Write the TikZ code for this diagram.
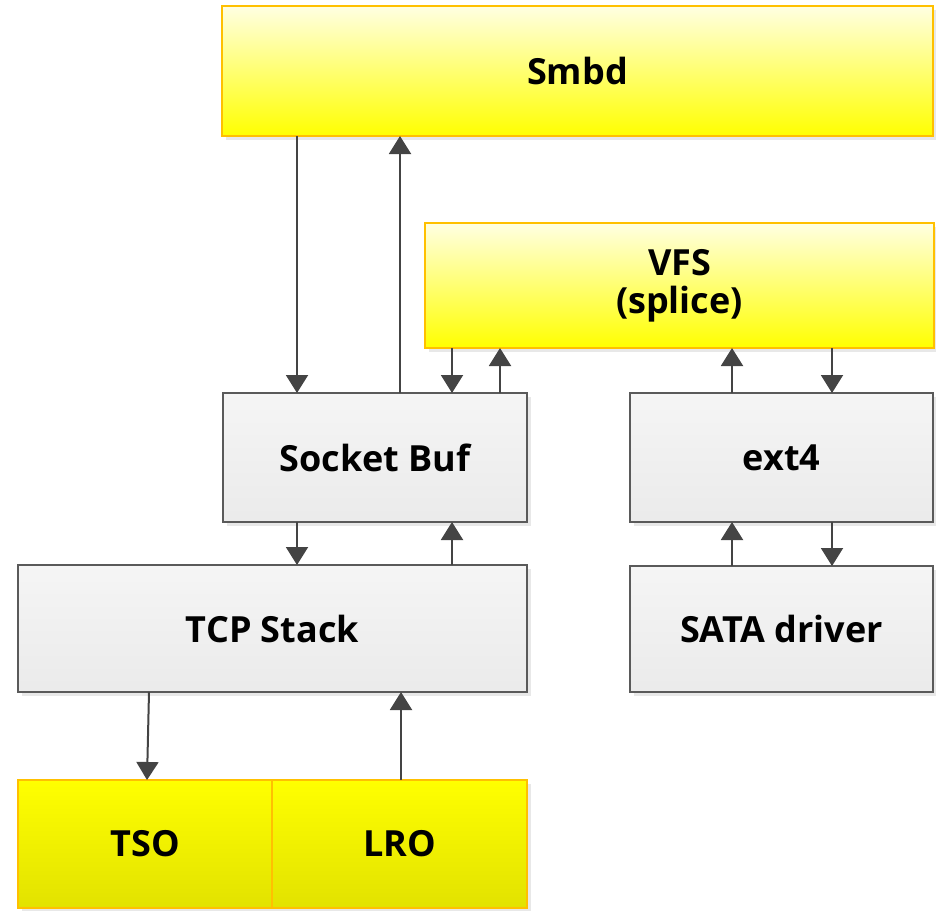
\documentclass[tikz,border=0pt]{standalone}
\usepackage{fontspec}
\setmainfont{Open Sans}
\usetikzlibrary{arrows.meta,shadows}
\definecolor{edgeGrey}{HTML}{5A5A5A}
\definecolor{arrowGrey}{HTML}{444444}
\definecolor{edgeOrange}{HTML}{FFC000}
\definecolor{paleYellow}{HTML}{FFFFE2}
\definecolor{darkYellow}{HTML}{E2E200}

\begin{document}
\begin{tikzpicture}[%
  x=0.5pt,y=-0.5pt,%
  boxStyle/.style={rectangle,inner sep=0pt,outer sep=0pt,align=center,%
    font=\fontsize{18}{19}\selectfont\bfseries,%
    drop shadow={opacity=0.18,shadow xshift=2pt,shadow yshift=-2pt}},%
  greyBox/.style={boxStyle,draw=edgeGrey,line width=1.1pt,%
    top color=white!96!black,bottom color=white!92!black},%
  softYellow/.style={boxStyle,draw=edgeOrange,line width=1pt,%
    top color=paleYellow,bottom color=yellow},%
  hardYellow/.style={boxStyle,draw=edgeOrange,line width=0.8pt,%
    top color=yellow,bottom color=darkYellow},%
  flow/.style={-{Triangle[length=9pt,width=11pt]},draw=arrowGrey,fill=arrowGrey,line width=1pt}%
]
%
\useasboundingbox (0,0) rectangle (936,910);
%
% The layers.
\node[softYellow,minimum width=355.5pt,minimum height=65pt] (smbd) at (577.5,71) {Smbd};
\node[softYellow,minimum width=254.5pt,minimum height=62.5pt] (vfs) at (679.5,285.5) {VFS\\(splice)};
\node[greyBox,minimum width=152pt,minimum height=64.5pt] (sockbuf) at (375,457.5) {Socket Buf};
\node[greyBox,minimum width=254.5pt,minimum height=63.5pt] (tcp) at (272.5,628.5) {TCP Stack};
\node[greyBox,minimum width=151.5pt,minimum height=64.5pt] (ext4) at (781.5,457.5) {ext4};
\node[greyBox,minimum width=151.5pt,minimum height=63pt] (sata) at (781.5,629) {SATA driver};
\node[hardYellow,minimum width=127pt,minimum height=64pt] (tso) at (145,844) {TSO};
\node[hardYellow,minimum width=127.5pt,minimum height=64pt] (lro) at (399.5,844) {LRO};
%
% Where the arrows run.
\coordinate (xDownNet) at (297,0);
\coordinate (xUpSmbd) at (400,0);
\coordinate (xDownVfs) at (452,0);
\coordinate (xUpVfs) at (500,0);
\coordinate (xUpDisk) at (732,0);
\coordinate (xDownDisk) at (832,0);
\coordinate (xTsoTop) at (149,0);
\coordinate (xTsoLow) at (147,0);
\coordinate (xLro) at (401,0);
%
% Network side.
\draw[flow] (smbd.south -| xDownNet) -- (sockbuf.north -| xDownNet);
\draw[flow] (sockbuf.north -| xUpSmbd) -- (smbd.south -| xUpSmbd);
\draw[flow] (vfs.south -| xDownVfs) -- (sockbuf.north -| xDownVfs);
\draw[flow] (sockbuf.north -| xUpVfs) -- (vfs.south -| xUpVfs);
\draw[flow] (sockbuf.south -| xDownNet) -- (tcp.north -| xDownNet);
\draw[flow] (tcp.north -| xDownVfs) -- (sockbuf.south -| xDownVfs);
\draw[flow] (tcp.south -| xTsoTop) -- (tso.north -| xTsoLow);
\draw[flow] (lro.north -| xLro) -- (tcp.south -| xLro);
%
% Disk side.
\draw[flow] (ext4.north -| xUpDisk) -- (vfs.south -| xUpDisk);
\draw[flow] (vfs.south -| xDownDisk) -- (ext4.north -| xDownDisk);
\draw[flow] (sata.north -| xUpDisk) -- (ext4.south -| xUpDisk);
\draw[flow] (ext4.south -| xDownDisk) -- (sata.north -| xDownDisk);
\end{tikzpicture}
\end{document}
